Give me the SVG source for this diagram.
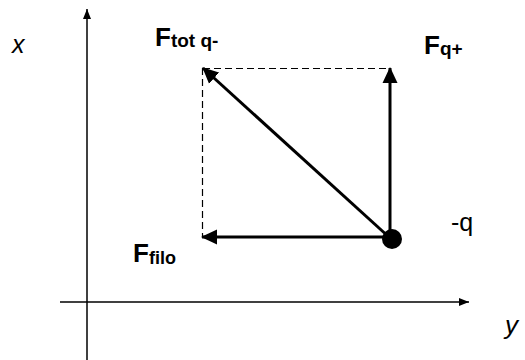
<svg xmlns="http://www.w3.org/2000/svg" width="525" height="360" viewBox="0 0 525 360">
<style>
.ax{stroke:#000;stroke-width:1.5;fill:none}
.vec{stroke:#000;stroke-width:3;fill:none}
.dash{stroke:#000;stroke-width:1.2;stroke-dasharray:7 4;fill:none}
.lbl{font-family:"Liberation Sans",Arial,sans-serif;fill:#000}
.b{font-weight:bold}
.it{font-style:italic}
</style>
<defs>
<marker id="big" markerWidth="16" markerHeight="16" viewBox="0 0 16 16" refX="15" refY="8" orient="auto" markerUnits="userSpaceOnUse">
<path d="M0,0.5 L16,8 L0,15.5 Z" fill="#000"/>
</marker>
<marker id="sm" markerWidth="10" markerHeight="10" viewBox="0 0 10 10" refX="10" refY="5" orient="auto" markerUnits="userSpaceOnUse">
<path d="M0,1 L10,5 L0,9 Z" fill="#000"/>
</marker>
</defs>
<g id="axes">
<line class="ax" x1="87" y1="360" x2="87" y2="9" marker-end="url(#sm)"/>
<line class="ax" x1="60" y1="302" x2="469" y2="302" marker-end="url(#sm)"/>
</g>
<g id="connectors">
<line class="dash" x1="203" y1="68.5" x2="389" y2="68.5"/>
<line class="dash" x1="202.5" y1="68" x2="202.5" y2="237"/>
<line class="vec" x1="390" y1="238" x2="390" y2="68" marker-end="url(#big)"/>
<line class="vec" x1="390" y1="237" x2="202" y2="237" marker-end="url(#big)"/>
<line class="vec" x1="390" y1="238" x2="203" y2="68" marker-end="url(#big)"/>
</g>
<g id="charge">
<circle cx="392" cy="239" r="10" fill="#000"/>
<text class="lbl" x="451" y="231" font-size="25">-q</text>
</g>
<g id="label-x"><text class="lbl it" x="12" y="53" font-size="25">x</text></g>
<g id="label-y"><text class="lbl it" x="505" y="334" font-size="26">y</text></g>
<g id="F-tot"><text class="lbl b" x="155" y="46" font-size="26">F<tspan font-size="19" dy="0.5">tot q-</tspan></text></g>
<g id="F-q"><text class="lbl b" x="424" y="54" font-size="26">F<tspan font-size="19" dy="1">q+</tspan></text></g>
<g id="F-filo"><text class="lbl b" x="133" y="262" font-size="26">F<tspan font-size="18" dy="2">filo</tspan></text></g>
</svg>
